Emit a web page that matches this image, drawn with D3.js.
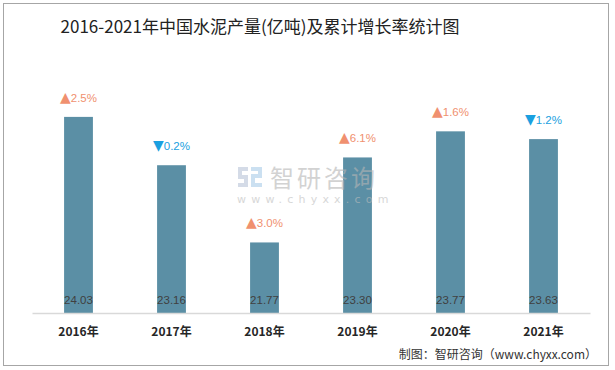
<!DOCTYPE html>
<html><head><meta charset="utf-8">
<script src="https://cdn.jsdelivr.net/npm/d3@7"></script>
<style>body{margin:0;background:#fff}svg{display:block}</style>
</head><body>
<svg id="c" width="615" height="370"></svg>
<script>
const years = ["2016年","2017年","2018年","2019年","2020年","2021年"];
const output = [24.03, 23.16, 21.77, 23.30, 23.77, 23.63];
const growth = [2.5, -0.2, 3.0, 6.1, 1.6, -1.2];
const yDomain = [20.5, 25];

const svg = d3.select("#c");
svg.append("rect").attr("x",3.5).attr("y",3.5).attr("width",605).attr("height",362)
  .attr("fill","#fff").attr("stroke","#a6a6a6").attr("stroke-width",1);

svg.append("text").attr("x",260).attr("y",33).attr("text-anchor","middle")
  .attr("font-family","'Noto Sans CJK SC', serif").attr("font-size",17).attr("fill","#222")
  .text("2016-2021年中国水泥产量(亿吨)及累计增长率统计图");

const x = d3.scaleBand().domain(years).range([32,590]).paddingInner(0.69).paddingOuter(0.345);
const y = d3.scaleLinear().domain(yDomain).range([313,63]);

svg.append("g").selectAll("rect").data(years).join("rect")
  .attr("x",d=>x(d)).attr("width",x.bandwidth())
  .attr("y",(d,i)=>y(output[i])).attr("height",(d,i)=>313-y(output[i]))
  .attr("fill","#5b8fa5");

// watermark
const wm = svg.append("g").attr("opacity",0.6);
wm.append("text").attr("x",270).attr("y",187).attr("font-family","'Noto Sans CJK SC'").attr("font-size",24)
  .attr("fill","#b5b5b5").attr("letter-spacing",3).text("智研咨询");
wm.append("text").attr("x",237).attr("y",203).attr("font-family","'DejaVu Sans'").attr("font-size",11)
  .attr("fill","#bdbdbd").attr("letter-spacing",5.2).text("www.chyxx.com");
wm.append("path").attr("d","M238,167h10v4h-6v4h6v12h-10v-4h6v-4h-6z").attr("fill","#b8c4d8");
wm.append("path").attr("d","M251,167h11v11h-7v5h7v4h-11v-13h7v-3h-7z").attr("fill","#a9cde8");

const xAxis = d3.axisBottom(x).tickSize(0).tickPadding(14);
const ax = svg.append("g").attr("transform","translate(0,313)").call(xAxis);
ax.select(".domain").attr("stroke","#d9d9d9").attr("stroke-width",1.3);
ax.selectAll("text").attr("font-family","'Noto Sans CJK SC'").attr("font-size",12)
  .attr("font-weight","bold").attr("fill","#262626");

svg.append("g").selectAll("text").data(years).join("text")
  .attr("x",d=>x(d)+x.bandwidth()/2).attr("y",304).attr("text-anchor","middle")
  .attr("font-family","'Liberation Sans', Arial").attr("font-size",11.5).attr("fill","#404040")
  .text((d,i)=>output[i].toFixed(2));

const gl = svg.append("g").selectAll("text").data(years).join("text")
  .attr("x",d=>x(d)+x.bandwidth()/2).attr("y",(d,i)=>y(output[i])-15).attr("text-anchor","middle")
  .attr("font-family","'Liberation Sans', Arial").attr("font-size",11.5)
  .attr("fill",(d,i)=>growth[i]>=0?"#f0906f":"#1aa0e0");
gl.append("tspan").attr("font-size",14).attr("font-family","'DejaVu Sans'")
  .text((d,i)=>growth[i]>=0?"▲":"▼");
gl.append("tspan").text((d,i)=>Math.abs(growth[i]).toFixed(1)+"%");

svg.append("text").attr("x",597).attr("y",359).attr("text-anchor","end")
  .attr("font-family","'Noto Sans CJK SC', serif").attr("font-size",12).attr("fill","#333")
  .text("制图：智研咨询（www.chyxx.com）");
</script>
</body></html>
